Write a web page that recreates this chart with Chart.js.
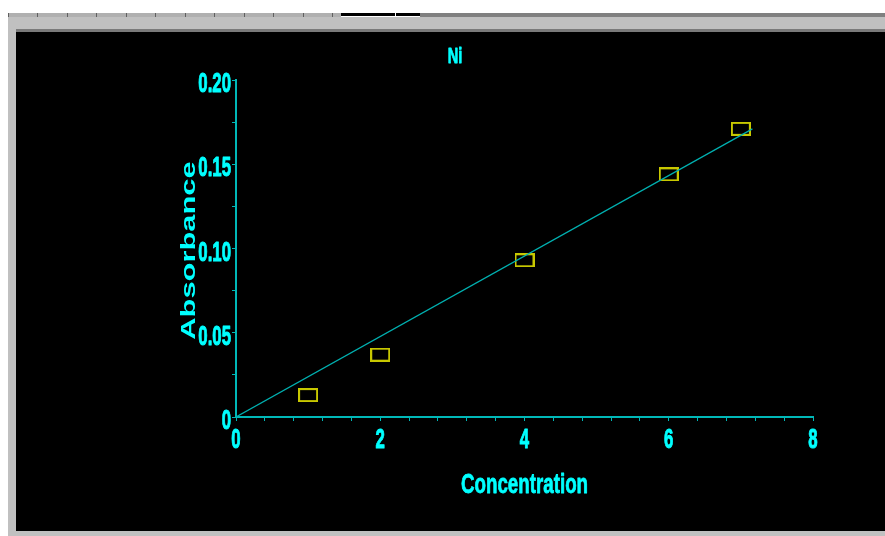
<!DOCTYPE html>
<html>
<head>
<meta charset="utf-8">
<script src="https://cdn.jsdelivr.net/npm/chart.js@4.4.1/dist/chart.umd.min.js"></script>
<style>
    html, body { margin: 0; padding: 0; background: #ffffff; width: 885px; height: 536px; overflow: hidden; }
    .frame { position: absolute; left: 8px; top: 17px; right: 0; bottom: 0; background: #c0c0c0; }
    .tabs { position: absolute; left: 8px; top: 13px; width: 333px; height: 4px; background: #b0b0b0;
            background-image: repeating-linear-gradient(90deg, #606060 0 1px, transparent 1px 29.5px); }
    .tabbar1 { position: absolute; left: 341px; top: 13px; width: 54px; height: 3px; background: #000; }
    .tabbar2 { position: absolute; left: 396px; top: 13px; width: 24px; height: 3px; background: #000; }
    .strip { position: absolute; left: 420px; top: 13px; right: 0; height: 4px; background: #808080; }
    .plot { position: absolute; left: 16px; top: 29px; right: 0; height: 502px; background: #000;
            border-top: 3px solid #7a7a7a; box-sizing: border-box; }
    #wrap { position: absolute; left: 0; top: 0; width: 885px; height: 536px; }
</style>
</head>
<body>
<div class="frame"></div>
<div class="tabs"></div>
<div class="tabbar1"></div>
<div class="tabbar2"></div>
<div class="strip"></div>
<div class="plot"></div>
<div id="wrap"><canvas id="niChart" width="885" height="536"></canvas></div>

<script>
// calibration points (concentration vs absorbance)
var concentration = [1, 2, 4, 6, 7];
var absorbance = [0.013, 0.037, 0.093, 0.144, 0.171];

// fitted calibration line, end points
var fitX = [0, 7.16];
var fitY = [0, 0.171];

// axis tick labels
var xTickLabels = [0, 2, 4, 6, 8];
var yTickValues = [0, 0.05, 0.10, 0.15, 0.20];
var yTickLabels = ["0", "0.05", "0.10", "0.15", "0.20"];

var titleText = "Ni";
var xTitle = "Concentration";
var yTitle = "Absorbance";

var textColor = "#00ffff";
var axisColor = "#00b8b8";
var lineColor = "#00b0b0";
var boxColor = "#c8c800";
var fontFamily = "'Liberation Sans', Arial, sans-serif";

// open rectangle marker
function boxMarker() {
    var c = document.createElement("canvas");
    c.width = 20;
    c.height = 14;
    var g = c.getContext("2d");
    g.strokeStyle = boxColor;
    g.lineWidth = 2;
    g.strokeRect(1, 1, 18, 12);
    return c;
}

function toPoints(xs, ys) {
    return xs.map(function (x, i) { return { x: x, y: ys[i] }; });
}

// squeezed / stretched text like the old plotting program
function drawText(ctx, text, x, y, font, sx, align, rotate, weight) {
    ctx.save();
    ctx.translate(x, y);
    if (rotate) {
        ctx.rotate(-Math.PI / 2);
    }
    ctx.scale(sx, 1);
    ctx.font = font;
    ctx.fillStyle = textColor;
    ctx.strokeStyle = textColor;
    ctx.textAlign = align;
    ctx.textBaseline = "alphabetic";
    ctx.fillText(text, 0, 0);
    if (weight) {
        ctx.lineWidth = weight;
        ctx.lineJoin = "round";
        ctx.strokeText(text, 0, 0);
    }
    ctx.restore();
}

var labelPlugin = {
    id: "labels",
    afterDraw: function (chart) {
        var ctx = chart.ctx;
        var xs = chart.scales.x;
        var ys = chart.scales.y;
        var area = chart.chartArea;
        var tickFont = "bold 28px " + fontFamily;

        yTickValues.forEach(function (v, i) {
            drawText(ctx, yTickLabels[i], area.left - 5, ys.getPixelForValue(v) + 12, tickFont, 0.6, "right", false, 1);
        });
        xTickLabels.forEach(function (v) {
            drawText(ctx, String(v), xs.getPixelForValue(v), area.bottom + 31, tickFont, 0.6, "center", false, 1);
        });

        drawText(ctx, titleText, 455, 63, "bold 22px " + fontFamily, 0.66, "center", false, 0.8);
        drawText(ctx, xTitle, (area.left + area.right) / 2, 493, "bold 28px " + fontFamily, 0.67, "center", false, 0.8);
        drawText(ctx, yTitle, 195, (area.top + area.bottom) / 2 + 2, "bold 21px " + fontFamily, 1.47, "center", true, 0);
    }
};

new Chart(document.getElementById("niChart"), {
    type: "scatter",
    data: {
        datasets: [
            {
                data: toPoints(fitX, fitY),
                showLine: true,
                borderColor: lineColor,
                borderWidth: 1.2,
                pointRadius: 0
            },
            {
                data: toPoints(concentration, absorbance),
                pointStyle: boxMarker(),
                pointRadius: 10
            }
        ]
    },
    options: {
        responsive: false,
        animation: false,
        layout: {
            padding: { left: 226, right: 72, top: 80, bottom: 109 }
        },
        plugins: {
            legend: { display: false },
            title: { display: false },
            tooltip: { enabled: false }
        },
        scales: {
            x: {
                type: "linear",
                min: 0,
                max: 8,
                ticks: { display: false, stepSize: 0.4 },
                grid: { drawOnChartArea: false, drawTicks: true, tickLength: 4, color: axisColor, tickWidth: 1 },
                border: { color: axisColor, width: 2 },
                afterFit: function (s) { s.height = 10; }
            },
            y: {
                min: 0,
                max: 0.2,
                ticks: { display: false, stepSize: 0.025 },
                grid: { drawOnChartArea: false, drawTicks: true, tickLength: 4, color: axisColor, tickWidth: 1 },
                border: { color: axisColor, width: 2 },
                afterFit: function (s) { s.width = 10; }
            }
        }
    },
    plugins: [labelPlugin]
});
</script>
</body>
</html>
